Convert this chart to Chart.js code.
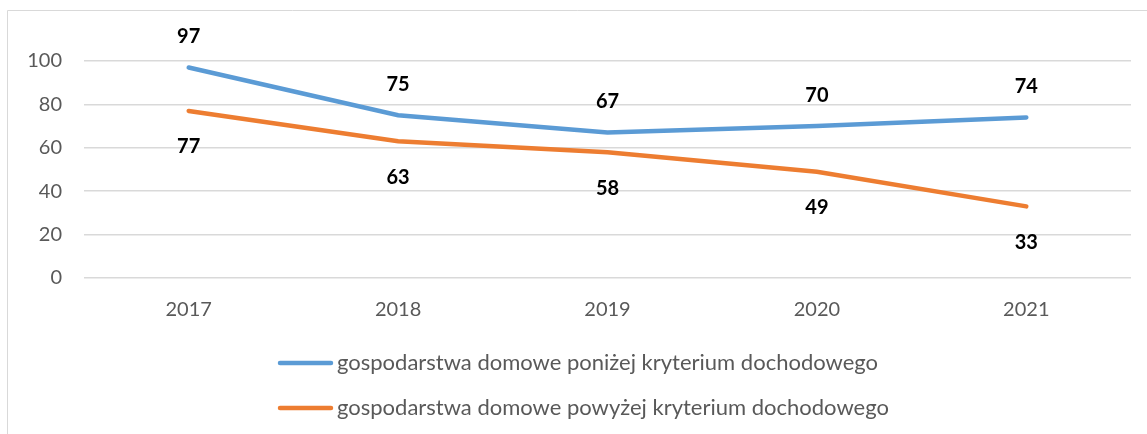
<!DOCTYPE html>
<html><head><meta charset="utf-8">
<script src="https://cdn.jsdelivr.net/npm/chart.js@4/dist/chart.umd.min.js"></script>
<style>html,body{margin:0;padding:0;background:#fff}#wrap{width:1147px;height:434px;position:relative}</style>
</head><body><div id="wrap"><canvas id="c" width="1147" height="434"></canvas></div>
<script>
const categories = ['2017','2018','2019','2020','2021'];
const seriesNames = ['gospodarstwa domowe poniżej kryterium dochodowego','gospodarstwa domowe powyżej kryterium dochodowego'];
const belowValues = [97,75,67,70,74];
const aboveValues = [77,63,58,49,33];
const yTicks = [0,20,40,60,80,100];
const FONT = 'Lato, "Open Sans", sans-serif';

const framePlugin = {
  id:'frame',
  beforeDraw(chart){
    const ctx = chart.ctx;
    ctx.save();
    ctx.strokeStyle = '#d9d9d9'; ctx.lineWidth = 1;
    ctx.beginPath(); ctx.moveTo(7.5,434); ctx.lineTo(7.5,10.5); ctx.lineTo(1147,10.5); ctx.stroke();
    ctx.restore();
  }
};
const labelPlugin = {
  id:'vlabels',
  afterDatasetsDraw(chart){
    const ctx = chart.ctx;
    ctx.save();
    ctx.font = 'bold 20px ' + FONT; ctx.fillStyle = '#000';
    ctx.textAlign = 'center'; ctx.textBaseline = 'middle';
    chart.data.datasets.forEach((ds, di) => {
      const meta = chart.getDatasetMeta(di);
      meta.data.forEach((pt, i) => {
        const dy = di === 0 ? -31 : 36;
        ctx.fillText(String(ds.data[i]), pt.x, pt.y + dy);
      });
    });
    ctx.restore();
  }
};
const legendPlugin = {
  id:'mylegend',
  afterDraw(chart){
    const ctx = chart.ctx;
    ctx.save();
    ctx.font = '22px ' + FONT; ctx.textBaseline = 'middle'; ctx.textAlign='left';
    const ys = [363, 408];
    chart.data.datasets.forEach((ds, di) => {
      const y = ys[di];
      ctx.strokeStyle = ds.borderColor; ctx.lineWidth = 4.5; ctx.lineCap = 'round';
      ctx.beginPath(); ctx.moveTo(280, y); ctx.lineTo(331, y); ctx.stroke();
      ctx.fillStyle = '#595959';
      ctx.fillText(ds.label, 337, y);
    });
    ctx.restore();
  }
};

new Chart(document.getElementById('c'), {
  type:'line',
  data:{
    labels: categories,
    datasets:[
      {label: seriesNames[0], data: belowValues, borderColor:'#5b9bd5', backgroundColor:'#5b9bd5', borderWidth:4.5, pointRadius:0, borderCapStyle:'round', tension:0, clip:false},
      {label: seriesNames[1], data: aboveValues, borderColor:'#ed7d31', backgroundColor:'#ed7d31', borderWidth:4.5, pointRadius:0, borderCapStyle:'round', tension:0, clip:false}
    ]
  },
  options:{
    responsive:false, animation:false, devicePixelRatio:1,
    layout:{padding:{left:0,top:61,right:16,bottom:0}},
    plugins:{legend:{display:false}, tooltip:{enabled:false}},
    scales:{
      x:{
        offset:true,
        grid:{display:false, drawTicks:false},
        border:{display:false},
        ticks:{color:'#595959', font:{family:FONT, size:20}, padding:20},
        afterFit(s){ s.height = 156; }
      },
      y:{
        min:0, max:100,
        afterBuildTicks(s){ s.ticks = yTicks.map(v=>({value:v})); },
        grid:{color:'#d9d9d9', lineWidth:1.5, drawTicks:false},
        border:{display:false},
        ticks:{color:'#595959', font:{family:FONT, size:20}, padding:22},
        afterFit(s){ s.width = 84; }
      }
    }
  },
  plugins:[framePlugin, labelPlugin, legendPlugin]
});
</script></body></html>
